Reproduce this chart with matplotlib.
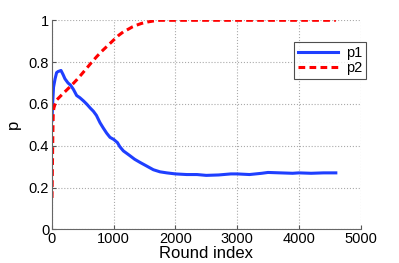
import matplotlib
matplotlib.use("Agg")
import matplotlib.pyplot as plt

# p1 (blue solid)
p1_x = [0, 10, 25, 50, 75, 100, 146, 180, 210, 260, 300, 346, 400, 450, 508, 560, 620, 670, 720, 778, 830, 886, 940, 1000, 1060, 1100, 1157, 1250, 1340, 1427, 1520, 1643, 1750, 1860, 2000, 2184, 2350, 2500, 2700, 2900, 3000, 3200, 3400, 3500, 3700, 3900, 4000, 4200, 4400, 4600]
p1_y = [0.52, 0.60, 0.68, 0.72, 0.75, 0.755, 0.76, 0.74, 0.72, 0.70, 0.69, 0.67, 0.64, 0.63, 0.615, 0.60, 0.58, 0.565, 0.545, 0.51, 0.485, 0.46, 0.44, 0.43, 0.415, 0.395, 0.375, 0.355, 0.335, 0.32, 0.305, 0.285, 0.275, 0.27, 0.265, 0.262, 0.262, 0.258, 0.26, 0.265, 0.265, 0.262, 0.268, 0.272, 0.27, 0.268, 0.27, 0.268, 0.27, 0.27]

# p2 (red dashed)
p2_x = [0, 5, 10, 15, 20, 30, 50, 80, 130, 180, 240, 320, 400, 480, 560, 640, 724, 800, 886, 1000, 1080, 1157, 1240, 1300, 1373, 1450, 1550, 1650, 1750, 2000, 2500, 3000, 3500, 4000, 4600]
p2_y = [0.15, 0.26, 0.38, 0.48, 0.555, 0.58, 0.60, 0.62, 0.635, 0.65, 0.667, 0.69, 0.715, 0.742, 0.77, 0.798, 0.826, 0.85, 0.874, 0.906, 0.928, 0.945, 0.958, 0.968, 0.977, 0.985, 0.992, 0.997, 1.0, 1.0, 1.0, 1.0, 1.0, 1.0, 1.0]

x_ticks = [0, 1000, 2000, 3000, 4000, 5000]
y_ticks = [0, 0.2, 0.4, 0.6, 0.8, 1]
y_tick_labels = ["0", "0.2", "0.4", "0.6", "0.8", "1"]

plt.rcParams['font.family'] = ['Liberation Sans', 'DejaVu Sans']

fig = plt.figure(figsize=(3.99, 2.63), dpi=100)
ax = fig.add_axes([52/399, 1 - 229.3/263, (360.5-52)/399, (229.3-20.3)/263])

ax.plot(p1_x, p1_y, color='#1f3fff', lw=2.2, label='p1')
ax.plot(p2_x, p2_y, color='#ff0000', lw=2.2, ls=(0, (2.2, 1.4)), label='p2')

ax.set_xlim(0, 5000)
ax.set_ylim(0, 1)
ax.set_xticks(x_ticks)
ax.set_yticks(y_ticks)
ax.set_yticklabels(y_tick_labels)
ax.tick_params(direction='in', length=3, labelsize=10.5, color='#555555', pad=2)
ax.grid(True, ls=':', color='#aaaaaa', lw=0.8)
for s in ['top', 'right']:
    ax.spines[s].set_visible(False)
for s in ['left', 'bottom']:
    ax.spines[s].set_color('#666666')
    ax.spines[s].set_linewidth(0.8)

ax.set_xlabel('Round index', fontsize=12, labelpad=0)
ax.set_ylabel('p', fontsize=12, labelpad=6)

leg = ax.legend(loc='upper left', bbox_to_anchor=((294-52)/308.5, 1 - (42-20.3)/209), fontsize=10.5,
                frameon=True, fancybox=False, edgecolor='#222222',
                handlelength=2.8, borderpad=0.25, labelspacing=0.1, handletextpad=0.5,
                borderaxespad=0)
leg.get_frame().set_linewidth(0.8)

fig.savefig('out.png', dpi=100)
